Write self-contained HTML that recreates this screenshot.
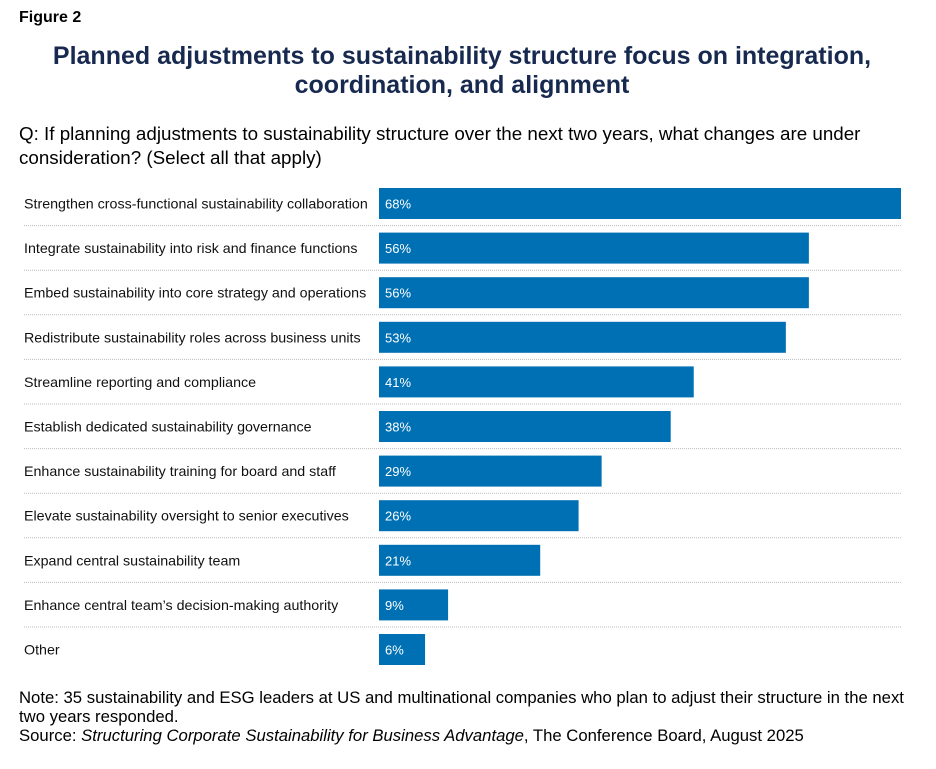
<!DOCTYPE html>
<html><head><meta charset="utf-8"><style>
body{margin:0;background:#fff;width:936px;height:769px;position:relative;font-family:"Liberation Sans",Arial,sans-serif;overflow:hidden}
.abs{position:absolute}
</style></head><body>
<div class="abs" style="left:19px;top:9px;font-size:16px;font-weight:bold;color:#000">Figure 2</div>
<div class="abs" style="left:-6px;width:936px;top:42px;text-align:center;font-size:25px;font-weight:bold;color:#17294f;line-height:29px">Planned adjustments to sustainability structure focus on integration,<br>coordination, and alignment</div>
<div class="abs" style="left:19px;top:122px;width:900px;font-size:18.8px;line-height:24px;color:#000">Q: If planning adjustments to sustainability structure over the next two years, what changes are under consideration? (Select all that apply)</div>
<svg class="abs" style="left:0;top:0" width="936" height="769" id="chart"></svg>
<div class="abs" style="left:19px;top:688px;width:895px;font-size:16.7px;line-height:19px;color:#000">Note: 35 sustainability and ESG leaders at US and multinational companies who plan to adjust their structure in the next two years responded.<br>Source: <i>Structuring Corporate Sustainability for Business Advantage</i>, The Conference Board, August 2025</div>
<script>
const categories=["Strengthen cross-functional sustainability collaboration","Integrate sustainability into risk and finance functions","Embed sustainability into core strategy and operations","Redistribute sustainability roles across business units","Streamline reporting and compliance","Establish dedicated sustainability governance","Enhance sustainability training for board and staff","Elevate sustainability oversight to senior executives","Expand central sustainability team","Enhance central team\u2019s decision-making authority","Other"];
const values=[68,56,56,53,41,38,29,26,21,9,6];
const svg=document.getElementById('chart');
const NS='http://www.w3.org/2000/svg';
const x0=379,pxPer=(901-379)/68;
const xScale=v=>v*pxPer;
const yTop=188,pitch=44.6,barH=31;
const yScale=i=>yTop+i*pitch;
function mk(t,a){const e=document.createElementNS(NS,t);for(const k in a)e.setAttribute(k,a[k]);svg.appendChild(e);return e;}
categories.forEach((c,i)=>{
  const y=yScale(i);
  if(i>0){const l=mk('line',{x1:24,x2:901,y1:y-7,y2:y-7,stroke:'#bbb','stroke-width':1,'stroke-dasharray':'1,1'});
  
  }
  const t=mk('text',{x:24,y:y+barH/2+5,'font-size':14.25,fill:'#111','font-family':'Liberation Sans, Arial, sans-serif'});
  t.textContent=c;
  
  
  const r=mk('rect',{x:x0,y:y,width:xScale(values[i]),height:barH,fill:'#0070b4'});
  
  
  const v=mk('text',{x:x0+6,y:y+barH/2+5,'font-size':13,fill:'#fff','font-family':'Liberation Sans, Arial, sans-serif'});
  v.textContent=values[i]+'%';
  
  
});
</script>
</body></html>
